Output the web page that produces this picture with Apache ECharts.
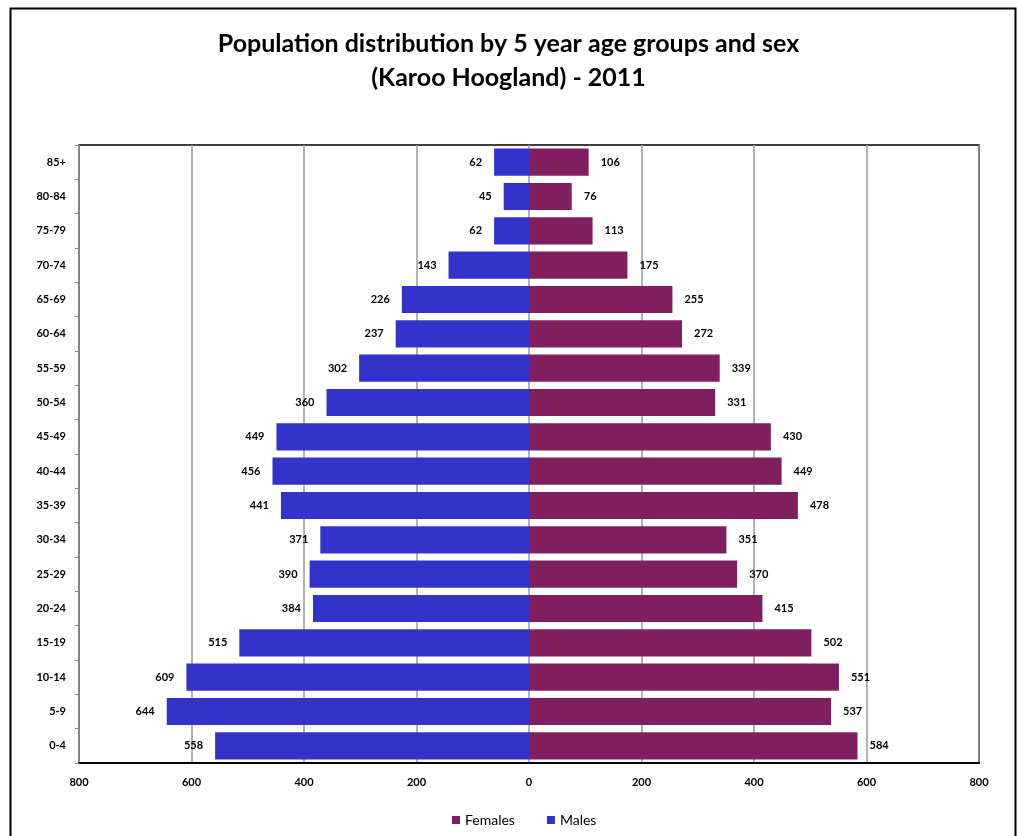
<!DOCTYPE html>
<html>
<head>
<meta charset="utf-8">
<script src="https://cdn.jsdelivr.net/npm/echarts@6/dist/echarts.min.js"></script>
<style>html,body{margin:0;padding:0;background:#fff;}#c{width:1017px;height:836px;}</style>
</head>
<body>
<div id="c"></div>
<script>
const categories = ['0-4','5-9','10-14','15-19','20-24','25-29','30-34','35-39','40-44','45-49','50-54','55-59','60-64','65-69','70-74','75-79','80-84','85+'];
const males = [558,644,609,515,384,390,371,441,456,449,360,302,237,226,143,62,45,62];
const females = [584,537,551,502,415,370,351,478,449,430,331,339,272,255,175,113,76,106];
const xTicks = [-800,-600,-400,-200,0,200,400,600,800];

const FONT = 'Lato, "Open Sans", "DejaVu Sans", sans-serif';
const chart = echarts.init(document.getElementById('c'));
chart.setOption({
  animation: false,
  backgroundColor: '#fff',
  title: {
    text: 'Population distribution by 5 year age groups and sex\n(Karoo Hoogland) - 2011',
    left: 'center', top: 22,
    textStyle: { fontFamily: FONT, fontSize: 25, fontWeight: 'bold', color: '#000', lineHeight: 34 }
  },
  graphic: [{
    type: 'rect', left: 8, top: 6, silent: true,
    shape: { width: 1005, height: 840 },
    style: { fill: 'none', stroke: '#000', lineWidth: 2 }
  }],
  legend: {
    top: 808, left: 447,
    itemWidth: 8, itemHeight: 8, itemGap: 32,
    icon: 'rect',
    textStyle: { fontFamily: FONT, fontSize: 14, color: '#000' },
    data: ['Females', 'Males']
  },
  grid: {
    left: 79, right: 38, top: 145, bottom: 73,
    show: true, borderColor: '#000', borderWidth: 1.5
  },
  xAxis: {
    type: 'value', min: xTicks[0], max: xTicks[xTicks.length - 1], interval: 200,
    axisLine: { show: true, lineStyle: { color: '#000', width: 2 } },
    axisTick: { show: false },
    axisLabel: {
      fontFamily: FONT, fontSize: 11, fontWeight: 'bold', color: '#000', margin: 14,
      formatter: v => String(Math.abs(v))
    },
    splitLine: { show: true, lineStyle: { color: '#999', width: 1.5 } }
  },
  yAxis: [{
    type: 'category', data: categories,
    axisLine: { show: false }, axisTick: { show: false },
    axisLabel: { fontFamily: FONT, fontSize: 11, fontWeight: 'bold', color: '#000', margin: 13 }
  }, {
    type: 'category', data: categories, position: 'left',
    axisLine: { show: true, onZero: true, lineStyle: { color: '#888' } },
    axisTick: { show: true, length: 4, inside: false, lineStyle: { color: '#888' } },
    axisLabel: { show: false }
  }],
  series: [{
    name: 'Males', type: 'bar', yAxisIndex: 0,
    data: males.map(v => -v),
    barCategoryGap: '21%', barGap: '-100%',
    itemStyle: { color: '#3333CC' },
    label: {
      show: true, position: 'left', distance: 12,
      fontFamily: FONT, fontSize: 11, fontWeight: 'bold', color: '#000',
      formatter: p => String(Math.abs(p.value))
    }
  }, {
    name: 'Females', type: 'bar', yAxisIndex: 0,
    data: females,
    barCategoryGap: '21%', barGap: '-100%',
    itemStyle: { color: '#7F1F5F' },
    label: {
      show: true, position: 'right', distance: 12,
      fontFamily: FONT, fontSize: 11, fontWeight: 'bold', color: '#000'
    }
  }]
});
</script>
</body>
</html>
